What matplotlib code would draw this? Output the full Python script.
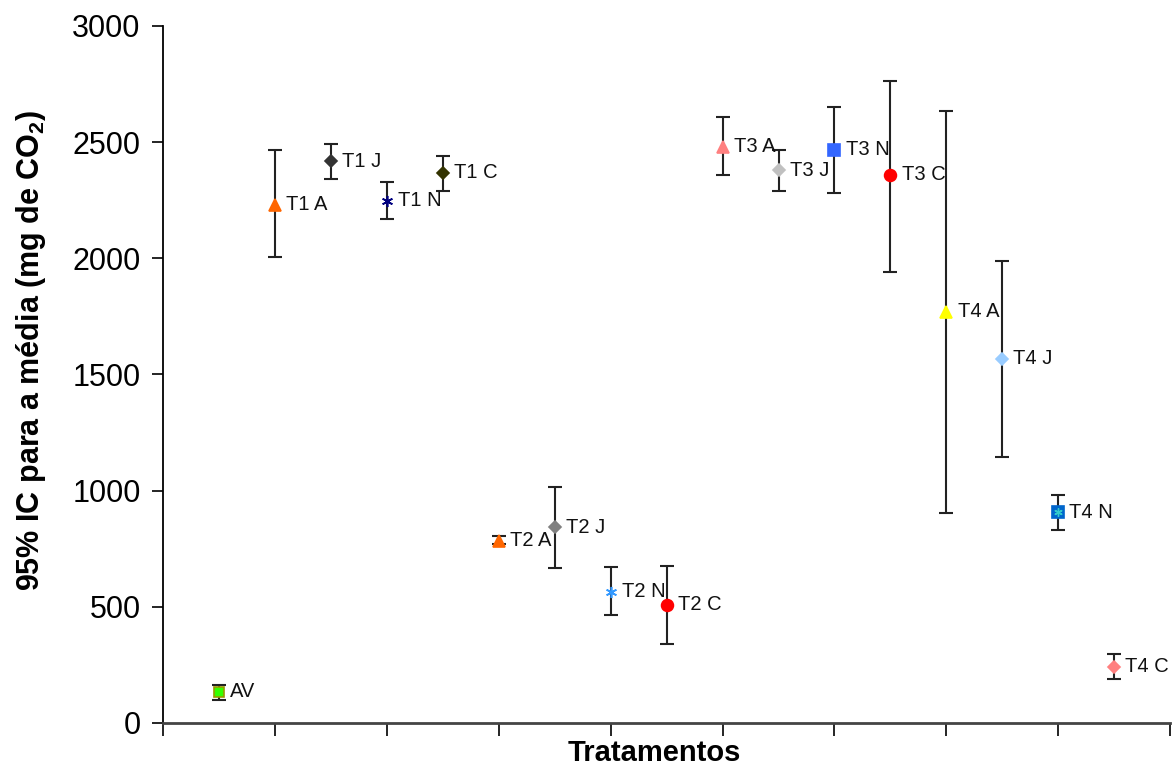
import numpy as np
import matplotlib
matplotlib.use("Agg")
import matplotlib.pyplot as plt

plt.rcParams['font.family'] = ['Liberation Sans', 'DejaVu Sans']

# data
labels = ["AV", "T1 A", "T1 J", "T1 N", "T1 C", "T2 A", "T2 J", "T2 N", "T2 C",
          "T3 A", "T3 J", "T3 N", "T3 C", "T4 A", "T4 J", "T4 N", "T4 C"]
means = [135, 2230, 2418, 2248, 2369, 785, 842, 565, 508,
         2481, 2378, 2467, 2359, 1771, 1567, 908, 242]
lower = [100, 2006, 2340, 2168, 2291, 770, 666, 465, 340,
         2360, 2291, 2279, 1941, 905, 1144, 831, 188]
upper = [165, 2467, 2492, 2329, 2441, 805, 1017, 670, 677,
         2610, 2467, 2653, 2765, 2635, 1989, 980, 296]

# marker styles
markers = ["s", "^", "D", (6, 2, 0), "D", "^", "D", (6, 2, 0), "o",
           "^", "D", "s", "o", "^", "D", "s", "D"]
colors = ["#33FF00", "#FF6600", "#333333", "#000080", "#333300", "#FF6600", "#808080", "#3399FF", "#FF0000",
          "#FF8080", "#C0C0C0", "#3366FF", "#FF0000", "#FFFF00", "#99CCFF", "#0066CC", "#FF8080"]
edges = ["#999900", "#FF6600", "#333333", "#000080", "#333300", "#FF6600", "#808080", "#3399FF", "#FF0000",
         "#FF8080", "#C0C0C0", "#3366FF", "#FF0000", "#FFFF00", "#99CCFF", "#0066CC", "#FF8080"]
sizes = [7, 9, 6.5, 8, 6.5, 9, 6.5, 8, 8.5, 9, 6.5, 8, 8.5, 9, 6.5, 8, 6.5]

fig = plt.figure(figsize=(11.72, 7.71), dpi=100)
ax = fig.add_axes([0.139, 0.0623, 0.8595, 0.904])

x = (np.arange(len(labels)) + 1) * 0.5
for i in range(len(labels)):
    ax.errorbar(x[i], means[i],
                yerr=[[means[i] - lower[i]], [upper[i] - means[i]]],
                fmt='none', ecolor='#222222', elinewidth=1.5, capsize=5, capthick=1.5, zorder=2)
    ax.plot(x[i], means[i], linestyle='none', marker=markers[i], markersize=sizes[i],
            markerfacecolor=colors[i], markeredgecolor=edges[i], markeredgewidth=1.2, zorder=3)
    ax.annotate(labels[i], (x[i], means[i]), xytext=(8, 0), textcoords='offset points',
                va='center', ha='left', fontsize=14.5, color='#111111')

# asterisk inside the T4 N square
ax.plot(x[15], means[15], linestyle='none', marker=(6, 2, 0), markersize=6,
        markeredgecolor='#33CCCC', markeredgewidth=1, zorder=4)

ax.set_xlim(0, 9)
ax.set_ylim(0, 3000)
ax.set_xticks(np.arange(0, 10))
ax.set_xticklabels([])
ax.set_yticks(np.arange(0, 3001, 500))
ax.tick_params(axis='y', direction='out', length=8, width=1.2, labelsize=22, pad=8)
ax.tick_params(axis='x', direction='out', length=9, width=1.2)

ax.spines['top'].set_visible(False)
ax.spines['right'].set_visible(False)
ax.spines['left'].set_linewidth(1.3)
ax.spines['bottom'].set_linewidth(2)
ax.spines['bottom'].set_color('#444444')

ax.set_xlabel("Tratamentos", fontsize=21, fontweight='bold')
ax.xaxis.label.set_verticalalignment('top')
ax.xaxis.set_label_coords(0.488, -0.023)
ax.set_ylabel("95% IC para a média (mg de CO$_\\mathregular{2}$)", fontsize=22, fontweight='bold')
ax.yaxis.set_label_coords(-0.114, 0.535)

fig.savefig("out.png", dpi=100)
